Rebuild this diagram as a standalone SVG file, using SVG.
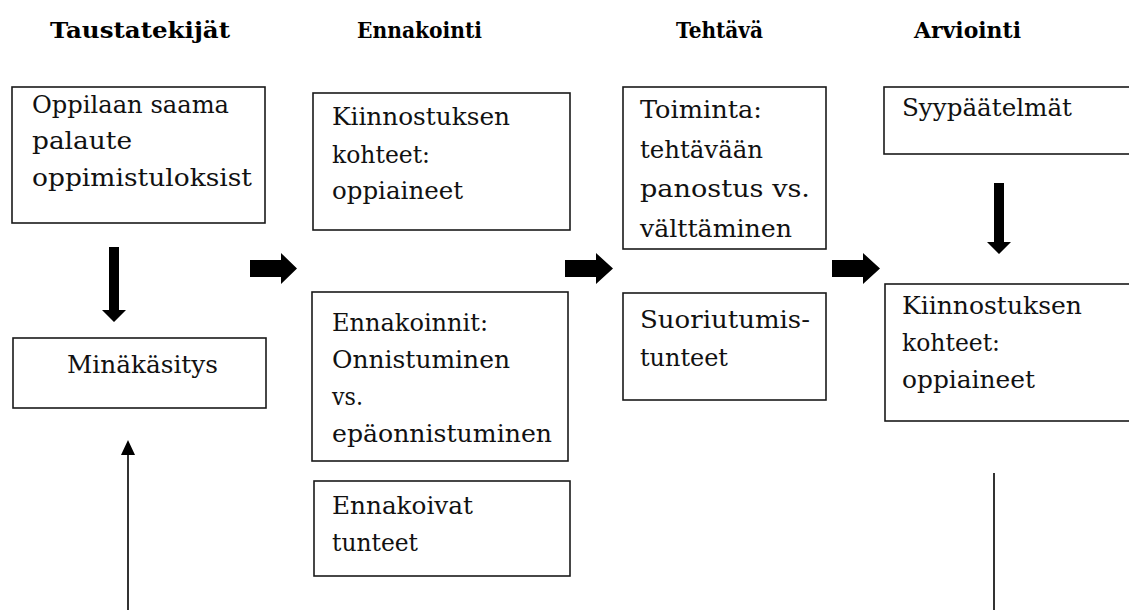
<svg xmlns="http://www.w3.org/2000/svg" width="1129" height="610" viewBox="0 0 1129 610">
<style>
.box{fill:#fff;stroke:#1a1a1a;stroke-width:1.6}
.t{font-family:'DejaVu Serif','Liberation Serif',serif;font-size:24px;fill:#111}
.h{font-family:'DejaVu Serif','Liberation Serif',serif;font-size:23px;font-weight:bold;fill:#000}
.blk{fill:#000}
.thin{stroke:#333;stroke-width:2;fill:none}
</style>
<rect width="1129" height="610" fill="#fff"/>
<g id="titles">
<text class="h" x="50" y="38" textLength="180" lengthAdjust="spacingAndGlyphs">Taustatekijät</text>
<text class="h" x="357" y="38" textLength="125" lengthAdjust="spacingAndGlyphs">Ennakointi</text>
<text class="h" x="676" y="38" textLength="87" lengthAdjust="spacingAndGlyphs">Tehtävä</text>
<text class="h" x="914" y="38" textLength="107" lengthAdjust="spacingAndGlyphs">Arviointi</text>
</g>
<g id="connectors">
<polygon class="blk" points="109,247 119,247 119,310 126,310 114,322 102,310 109,310"/>
<polygon class="blk" points="994,183 1004,183 1004,242 1011,242 999,254 987,242 994,242"/>
<polygon class="blk" points="250,260 281,260 281,253 297,268.5 281,284 281,277 250,277"/>
<polygon class="blk" points="565,260 596,260 596,253 613,268.5 596,284 596,277 565,277"/>
<polygon class="blk" points="832,260 863,260 863,253 880,268.5 863,284 863,277 832,277"/>
<line class="thin" x1="128" y1="610" x2="128" y2="452"/>
<polygon class="blk" points="128,440 135,455 121,455"/>
<line class="thin" x1="994" y1="473" x2="994" y2="610"/>
</g>
<g id="node-palaute">
<rect class="box" x="12" y="87" width="253" height="136"/>
<text class="t" x="32" y="113" textLength="197" lengthAdjust="spacingAndGlyphs">Oppilaan saama</text>
<text class="t" x="32" y="149" textLength="100" lengthAdjust="spacingAndGlyphs">palaute</text>
<text class="t" x="32" y="186" textLength="220" lengthAdjust="spacingAndGlyphs">oppimistuloksist</text>
</g>
<g id="node-minakasitys">
<rect class="box" x="13" y="338" width="253" height="70"/>
<text class="t" x="67" y="373" textLength="151" lengthAdjust="spacingAndGlyphs">Minäkäsitys</text>
</g>
<g id="node-kiinnostus1">
<rect class="box" x="313" y="93" width="257" height="137"/>
<text class="t" x="332" y="125" textLength="178" lengthAdjust="spacingAndGlyphs">Kiinnostuksen</text>
<text class="t" x="332" y="163" textLength="98" lengthAdjust="spacingAndGlyphs">kohteet:</text>
<text class="t" x="332" y="199" textLength="131" lengthAdjust="spacingAndGlyphs">oppiaineet</text>
</g>
<g id="node-ennakoinnit">
<rect class="box" x="312" y="292" width="256" height="169"/>
<text class="t" x="332" y="331" textLength="156" lengthAdjust="spacingAndGlyphs">Ennakoinnit:</text>
<text class="t" x="332" y="368" textLength="178" lengthAdjust="spacingAndGlyphs">Onnistuminen</text>
<text class="t" x="332" y="405" textLength="31" lengthAdjust="spacingAndGlyphs">vs.</text>
<text class="t" x="332" y="442" textLength="220" lengthAdjust="spacingAndGlyphs">epäonnistuminen</text>
</g>
<g id="node-ennakoivat">
<rect class="box" x="314" y="481" width="256" height="95"/>
<text class="t" x="332" y="514" textLength="141" lengthAdjust="spacingAndGlyphs">Ennakoivat</text>
<text class="t" x="332" y="551" textLength="86" lengthAdjust="spacingAndGlyphs">tunteet</text>
</g>
<g id="node-toiminta">
<rect class="box" x="623" y="87" width="203" height="162"/>
<text class="t" x="640" y="118" textLength="122" lengthAdjust="spacingAndGlyphs">Toiminta:</text>
<text class="t" x="640" y="158" textLength="123" lengthAdjust="spacingAndGlyphs">tehtävään</text>
<text class="t" x="640" y="197" textLength="170" lengthAdjust="spacingAndGlyphs">panostus vs.</text>
<text class="t" x="640" y="237" textLength="152" lengthAdjust="spacingAndGlyphs">välttäminen</text>
</g>
<g id="node-suoriutumis">
<rect class="box" x="623" y="293" width="203" height="107"/>
<text class="t" x="640" y="328" textLength="170" lengthAdjust="spacingAndGlyphs">Suoriutumis-</text>
<text class="t" x="640" y="366" textLength="88" lengthAdjust="spacingAndGlyphs">tunteet</text>
</g>
<g id="node-syypaatelmat">
<rect class="box" x="884" y="87" width="260" height="67"/>
<text class="t" x="902" y="116" textLength="170" lengthAdjust="spacingAndGlyphs">Syypäätelmät</text>
</g>
<g id="node-kiinnostus2">
<rect class="box" x="885" y="284" width="260" height="137"/>
<text class="t" x="902" y="314" textLength="180" lengthAdjust="spacingAndGlyphs">Kiinnostuksen</text>
<text class="t" x="902" y="351" textLength="98" lengthAdjust="spacingAndGlyphs">kohteet:</text>
<text class="t" x="902" y="388" textLength="133" lengthAdjust="spacingAndGlyphs">oppiaineet</text>
</g>
</svg>
